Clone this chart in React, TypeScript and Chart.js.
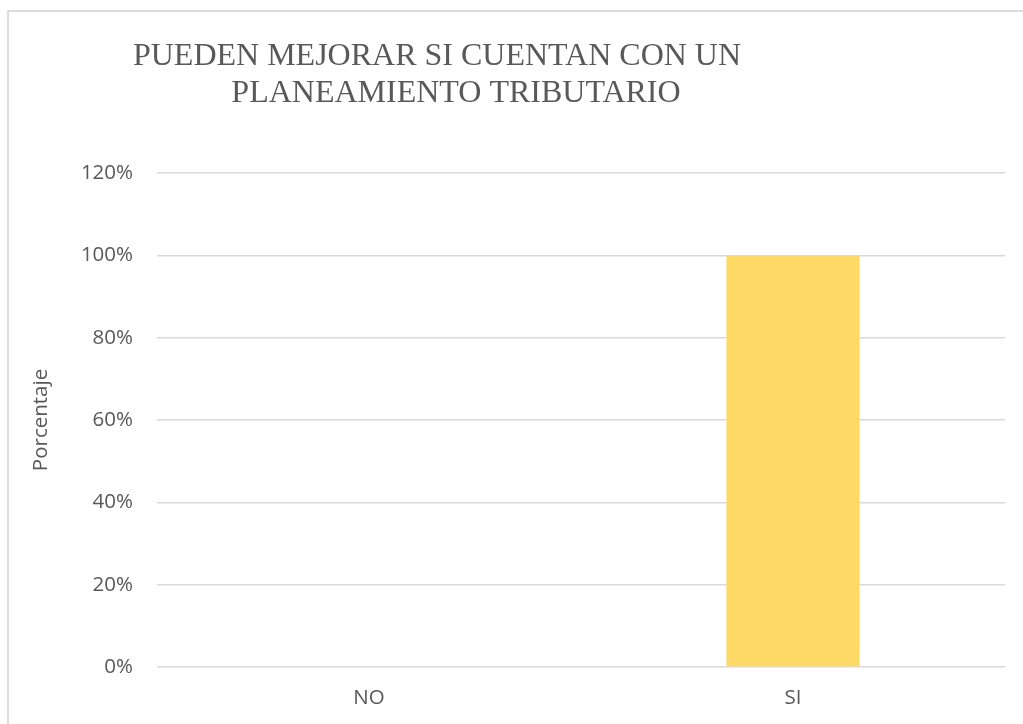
import React, { useEffect, useRef } from "react";
import { Chart, registerables } from "chart.js";

Chart.register(...registerables);

const categories = ["NO", "SI"];
const values = [0, 1];
const yTicks = [0, 0.2, 0.4, 0.6, 0.8, 1.0, 1.2];
const titleLines = ["PUEDEN MEJORAR SI CUENTAN CON UN", "PLANEAMIENTO TRIBUTARIO"];
const yAxisTitle = "Porcentaje";

const TEXT = "#595959";
const GRID = "#d9d9d9";
const BAR = "#FFD966";
const FONT = "'Open Sans', sans-serif";

const titlePlugin = {
  id: "twoLineTitle",
  afterDraw(chart: any) {
    const ctx = chart.ctx;
    ctx.save();
    ctx.fillStyle = TEXT;
    ctx.font = "32px 'Liberation Serif', 'Times New Roman', serif";
    ctx.textAlign = "center";
    ctx.textBaseline = "alphabetic";
    const centers = [437, 456];
    const baselines = [65, 102];
    titleLines.forEach((t, i) => ctx.fillText(t, centers[i], baselines[i]));
    ctx.restore();
  },
};

export default function App() {
  const ref = useRef<HTMLCanvasElement | null>(null);
  useEffect(() => {
    if (!ref.current) return;
    document.body.style.overflow = "hidden";
    const chart = new Chart(ref.current, {
      type: "bar",
      data: {
        labels: categories,
        datasets: [
          {
            data: values,
            backgroundColor: BAR,
            borderWidth: 0,
            categoryPercentage: 1,
            barPercentage: 0.314,
          },
        ],
      },
      plugins: [titlePlugin],
      options: {
        animation: false,
        responsive: false,
        maintainAspectRatio: false,
        layout: { padding: { top: 173, right: 18, bottom: 0, left: 0 } },
        plugins: {
          legend: { display: false },
          title: { display: false },
          tooltip: { enabled: false },
        },
        scales: {
          x: {
            afterFit(scale: any) {
              scale.height = 57;
            },
            grid: { display: false, drawTicks: false },
            border: { display: false },
            ticks: {
              color: TEXT,
              padding: 19,
              font: { family: FONT, size: 20.5 },
            },
          },
          y: {
            min: 0,
            max: 1.2,
            afterBuildTicks(scale: any) {
              scale.ticks = yTicks.map((v) => ({ value: v }));
            },
            afterFit(scale: any) {
              scale.width = 157;
            },
            grid: { color: GRID, lineWidth: 1.5, drawTicks: false },
            border: { display: false },
            ticks: {
              color: TEXT,
              padding: 24,
              font: { family: FONT, size: 20.5 },
              callback: (v: any) => Math.round(Number(v) * 100) + "%",
            },
            title: {
              display: true,
              text: yAxisTitle,
              color: TEXT,
              padding: { top: 29, bottom: 0 },
              font: { family: FONT, size: 20.5 },
            },
          },
        },
      },
    });
    return () => chart.destroy();
  }, []);

  return (
    <div
      style={{
        position: "fixed",
        left: 0,
        top: 0,
        width: 1023,
        height: 724,
        overflow: "hidden",
        background: "#fff",
      }}
    >
      <div
        style={{
          position: "absolute",
          left: 7,
          top: 10,
          width: 1040,
          height: 740,
          boxSizing: "border-box",
          border: "2px solid #dcdcdc",
        }}
      />
      <canvas
        ref={ref}
        width={1023}
        height={724}
        style={{ position: "absolute", left: 0, top: 0, width: 1023, height: 724 }}
      />
    </div>
  );
}
